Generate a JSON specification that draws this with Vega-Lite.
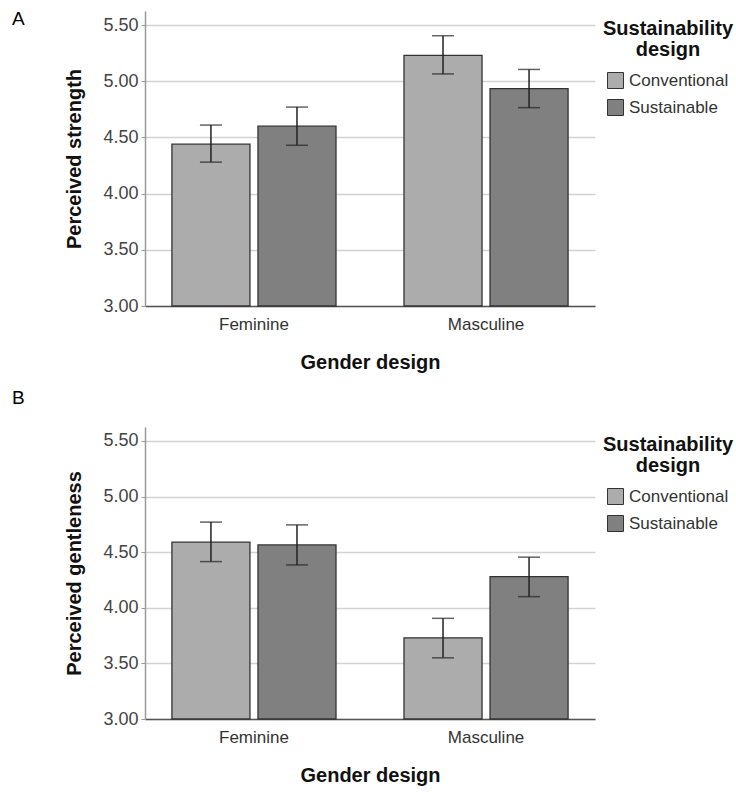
{
  "$schema": "https://vega.github.io/schema/vega-lite/v6.json",
  "padding": {"left": 12, "top": 10, "right": 0, "bottom": 5},
  "background": "white",
  "datasets": {
    "strength": [
      {"gender": "Feminine", "design": "Conventional", "mean": 4.44, "lo": 4.28, "hi": 4.61},
      {"gender": "Feminine", "design": "Sustainable", "mean": 4.6, "lo": 4.43, "hi": 4.77},
      {"gender": "Masculine", "design": "Conventional", "mean": 5.23, "lo": 5.065, "hi": 5.405},
      {"gender": "Masculine", "design": "Sustainable", "mean": 4.935, "lo": 4.765, "hi": 5.105}
    ],
    "gentle": [
      {"gender": "Feminine", "design": "Conventional", "mean": 4.59, "lo": 4.415, "hi": 4.77},
      {"gender": "Feminine", "design": "Sustainable", "mean": 4.565, "lo": 4.385, "hi": 4.745},
      {"gender": "Masculine", "design": "Conventional", "mean": 3.73, "lo": 3.55, "hi": 3.905},
      {"gender": "Masculine", "design": "Sustainable", "mean": 4.28, "lo": 4.1, "hi": 4.455}
    ]
  },
  "config": {
    "view": {"stroke": null},
    "font": "Liberation Sans",
    "axisY": {
      "grid": true, "gridColor": "#d2d2d2", "gridWidth": 1.5,
      "domainColor": "#9a9a9a", "domainWidth": 1.5,
      "tickColor": "#9a9a9a", "tickSize": 4, "tickWidth": 1,
      "labelFontSize": 18, "labelColor": "#444", "labelPadding": 3,
      "titleFontSize": 20, "titleFontWeight": "bold", "titleColor": "#111", "titlePadding": 18,
      "values": [3, 3.5, 4, 4.5, 5, 5.5], "format": ".2f"
    },
    "axisX": {
      "grid": false, "ticks": false, "domainColor": "#555", "domainWidth": 1.5,
      "labelFontSize": 17, "labelColor": "#333", "labelPadding": 10, "labelAngle": 0,
      "titleFontSize": 20, "titleFontWeight": "bold", "titleColor": "#111", "titlePadding": 20
    },
    "legend": {
      "orient": "right", "offset": 0, "padding": 8,
      "titleFontSize": 20, "titleFontWeight": "bold", "titleColor": "#111",
      "titleAlign": "center", "titleAnchor": "middle", "titleLineHeight": 21, "titlePadding": 12,
      "labelFontSize": 17, "labelColor": "#333", "labelOffset": 5,
      "symbolType": "square", "symbolSize": 256, "symbolStrokeColor": "#333", "symbolStrokeWidth": 1,
      "rowPadding": 6
    },
    "title": {"anchor": "start", "frame": "group", "fontSize": 19, "fontWeight": "normal", "color": "#000", "baseline": "alphabetic", "dx": -133}
  },
  "spacing": 17,
  "vconcat": [
    {
      "title": {"text": "A", "offset": -18},
      "width": 450,
      "height": 295,
      "data": {"name": "strength"},
      "encoding": {
        "x": {"field": "gender", "type": "nominal", "title": "Gender design", "scale": {"paddingInner": 0.293, "paddingOuter": 0.116}},
        "xOffset": {"field": "design", "type": "nominal", "scale": {"paddingInner": 0.093, "paddingOuter": 0}}
      },
      "layer": [
        {
          "mark": {"type": "bar", "stroke": "#333", "strokeWidth": 1.3},
          "encoding": {
            "y": {"field": "mean", "type": "quantitative", "title": "Perceived strength", "scale": {"domain": [3, 5.625], "nice": false, "zero": false}},
            "y2": {"datum": 3},
            "fill": {"field": "design", "type": "nominal", "title": ["Sustainability", "design"], "scale": {"domain": ["Conventional", "Sustainable"], "range": ["#acacac", "#808080"]}}
          }
        },
        {
          "mark": {"type": "rule", "color": "#222", "strokeWidth": 1.5},
          "encoding": {"y": {"field": "lo", "type": "quantitative"}, "y2": {"field": "hi"}}
        },
        {
          "mark": {"type": "tick", "color": "#222", "thickness": 1.5, "size": 22},
          "encoding": {"y": {"field": "lo", "type": "quantitative"}}
        },
        {
          "mark": {"type": "tick", "color": "#222", "thickness": 1.5, "size": 22},
          "encoding": {"y": {"field": "hi", "type": "quantitative"}}
        }
      ]
    },
    {
      "title": {"text": "B", "offset": 19},
      "width": 450,
      "height": 292,
      "data": {"name": "gentle"},
      "encoding": {
        "x": {"field": "gender", "type": "nominal", "title": "Gender design", "scale": {"paddingInner": 0.293, "paddingOuter": 0.116}},
        "xOffset": {"field": "design", "type": "nominal", "scale": {"paddingInner": 0.093, "paddingOuter": 0}}
      },
      "layer": [
        {
          "mark": {"type": "bar", "stroke": "#333", "strokeWidth": 1.3},
          "encoding": {
            "y": {"field": "mean", "type": "quantitative", "title": "Perceived gentleness", "scale": {"domain": [3, 5.625], "nice": false, "zero": false}},
            "y2": {"datum": 3},
            "fill": {"field": "design", "type": "nominal", "title": ["Sustainability", "design"], "scale": {"domain": ["Conventional", "Sustainable"], "range": ["#acacac", "#808080"]}}
          }
        },
        {
          "mark": {"type": "rule", "color": "#222", "strokeWidth": 1.5},
          "encoding": {"y": {"field": "lo", "type": "quantitative"}, "y2": {"field": "hi"}}
        },
        {
          "mark": {"type": "tick", "color": "#222", "thickness": 1.5, "size": 22},
          "encoding": {"y": {"field": "lo", "type": "quantitative"}}
        },
        {
          "mark": {"type": "tick", "color": "#222", "thickness": 1.5, "size": 22},
          "encoding": {"y": {"field": "hi", "type": "quantitative"}}
        }
      ]
    }
  ],
  "resolve": {"scale": {"fill": "independent"}, "legend": {"fill": "independent"}}
}
